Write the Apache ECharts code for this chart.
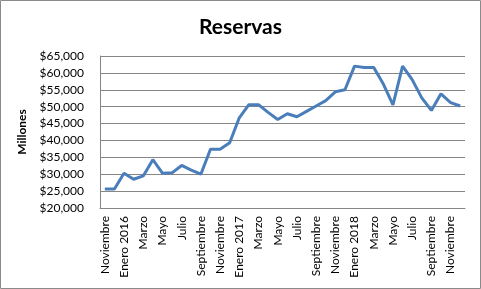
<!DOCTYPE html>
<html>
<head>
<meta charset="utf-8">
<script src="https://cdn.jsdelivr.net/npm/echarts@6/dist/echarts.min.js"></script>
<style>
html,body{margin:0;padding:0;background:#fff;}
#c{width:481px;height:289px;}
</style>
</head>
<body>
<div id="c"></div>
<script>
const categories = [
  'Noviembre','Diciembre','Enero 2016','Febrero','Marzo','Abril','Mayo','Junio','Julio','Agosto','Septiembre','Octubre',
  'Noviembre','Diciembre','Enero 2017','Febrero','Marzo','Abril','Mayo','Junio','Julio','Agosto','Septiembre','Octubre',
  'Noviembre','Diciembre','Enero 2018','Febrero','Marzo','Abril','Mayo','Junio','Julio','Agosto','Septiembre','Octubre',
  'Noviembre','Diciembre'
];
const reservas = [
  25600, 25600, 30300, 28500, 29500, 34300, 30300, 30400, 32600, 31200, 30000, 37400,
  37400, 39300, 46700, 50600, 50600, 48300, 46200, 47900, 47000, 48600, 50200, 51800,
  54400, 55000, 62000, 61600, 61600, 56700, 50500, 62000, 58000, 52600, 48900, 53800,
  51200, 50200
];
const yMin = 20000, yMax = 65000, yStep = 5000;

const chart = echarts.init(document.getElementById('c'), null, {renderer: 'canvas'});
const font = 'Lato, "Open Sans", "Liberation Sans", sans-serif';
chart.setOption({
  animation: false,
  backgroundColor: '#fff',
  title: {
    text: 'Reservas', left: 'center', top: 12,
    textStyle: {fontFamily: font, fontSize: 21, fontWeight: 'bold', color: '#000'}
  },
  graphic: [{
    type: 'rect', shape: {x: 0.5, y: 0.5, width: 480, height: 288},
    style: {fill: 'none', stroke: '#8a8a8a', lineWidth: 1}, silent: true
  }],
  grid: {left: 100, right: 16, top: 56, bottom: 81},
  xAxis: {
    type: 'category', data: categories, boundaryGap: true,
    axisLine: {lineStyle: {color: '#868686'}},
    axisTick: {show: false},
    axisLabel: {interval: 1, rotate: 90, fontFamily: font, fontSize: 12, color: '#000', margin: 8}
  },
  yAxis: {
    type: 'value', min: yMin, max: yMax, interval: yStep,
    name: 'Millones', nameLocation: 'middle', nameGap: 69, nameRotate: 90,
    nameTextStyle: {fontFamily: font, fontSize: 12, fontWeight: 'bold', color: '#000'},
    axisLine: {show: true, lineStyle: {color: '#868686'}},
    axisTick: {show: false},
    splitLine: {lineStyle: {color: '#868686', width: 1}},
    axisLabel: {
      fontFamily: font, fontSize: 12, color: '#000', margin: 16,
      formatter: v => '$' + v.toLocaleString('en-US')
    }
  },
  series: [{
    type: 'line', data: reservas, symbol: 'none',
    lineStyle: {color: '#4a7ebb', width: 3},
    itemStyle: {color: '#4a7ebb'}
  }]
});
</script>
</body>
</html>
